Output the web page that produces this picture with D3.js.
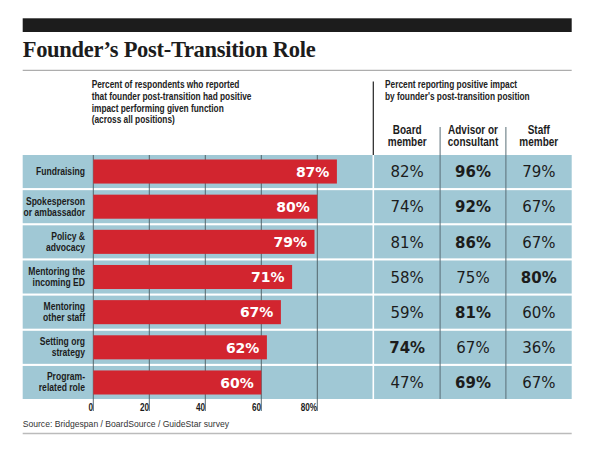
<!DOCTYPE html>
<html>
<head>
<meta charset="utf-8">
<script src="https://cdn.jsdelivr.net/npm/d3@7"></script>
<style>
  body { margin: 0; background: #fff; }
  .narrow { font-family: "Liberation Sans", Arial, sans-serif; font-weight: bold; }
</style>
</head>
<body>
<div id="chart"></div>
<script>
// data
const labelLines = [
    ["Fundraising"],
    ["Spokesperson", "or ambassador"],
    ["Policy &", "advocacy"],
    ["Mentoring the", "incoming ED"],
    ["Mentoring", "other staff"],
    ["Setting org", "strategy"],
    ["Program-", "related role"]
];
const overall = [87, 80, 79, 71, 67, 62, 60];
const board   = [82, 74, 81, 58, 59, 74, 47];
const advisor = [96, 92, 86, 75, 81, 67, 69];
const staff   = [79, 67, 67, 80, 60, 36, 67];
const positions = [["Board", "member"], ["Advisor or", "consultant"], ["Staff", "member"]];
const xTicks = [0, 20, 40, 60, 80];

const width = 592, height = 449;
const left = 22.7, right = 571.7, split = 373.3;
const blue = "#a0c8d5", red = "#d2252f";

const svg = d3.select("#chart")
    .append("svg")
    .attr("width", width)
    .attr("height", height);

// no narrow font installed, so squeeze text horizontally around its anchor x
function squeeze(sel, ax, sx) {
    sel.attr("transform", `matrix(${sx},0,0,1,${ax * (1 - sx)},0)`);
}

function multiline(sel, lines, x, y0, dy) {
    sel.selectAll("tspan")
        .data(lines)
        .enter().append("tspan")
        .attr("x", x)
        .attr("y", (d, i) => y0 + i * dy)
        .text(d => d);
}

// top black band, title, rule
svg.append("rect")
    .attr("x", left).attr("y", 18.3)
    .attr("width", right - left).attr("height", 13.7)
    .attr("fill", "#1c1c1c");

svg.append("text")
    .attr("x", left).attr("y", 56.7)
    .style("font-family", "'Liberation Serif', 'DejaVu Serif', serif")
    .style("font-weight", "bold")
    .style("font-size", "22.5px")
    .style("letter-spacing", "-0.3px")
    .attr("fill", "#1c1c1c")
    .text("Founder\u2019s Post-Transition Role");

svg.append("line")
    .attr("x1", left).attr("x2", right)
    .attr("y1", 70.3).attr("y2", 70.3)
    .attr("stroke", "#999").attr("stroke-width", 1);

// header notes
const leftNote = svg.append("text")
    .attr("class", "narrow")
    .style("font-size", "10.4px")
    .attr("fill", "#222");
multiline(leftNote, ["Percent of respondents who reported",
    "that founder post-transition had positive",
    "impact performing given function",
    "(across all positions)"], 91.7, 88.3, 11.7);
squeeze(leftNote, 91.7, 0.8);

const rightNote = svg.append("text")
    .attr("class", "narrow")
    .style("font-size", "10.4px")
    .attr("fill", "#222");
multiline(rightNote, ["Percent reporting positive impact",
    "by founder's post-transition position"], 385, 88.3, 11.7);
squeeze(rightNote, 385, 0.8);

svg.append("line")
    .attr("x1", split).attr("x2", split)
    .attr("y1", 81.5).attr("y2", 155)
    .attr("stroke", "#222").attr("stroke-width", 1.2);

// scales
const x = d3.scaleLinear()
    .domain([0, 80])
    .range([93.3, 317.3]);

const y = d3.scaleBand()
    .domain(d3.range(overall.length))
    .range([155, 399])
    .paddingInner(0.06);

const col = d3.scaleBand()
    .domain(d3.range(positions.length))
    .range([split + 1, right]);

// row bands
const rows = svg.append("g");
rows.selectAll(".bandL")
    .data(overall)
    .enter().append("rect")
    .attr("class", "bandL")
    .attr("x", left)
    .attr("y", (d, i) => y(i))
    .attr("width", split - 0.8 - left)
    .attr("height", y.bandwidth())
    .attr("fill", blue);
rows.selectAll(".bandR")
    .data(overall)
    .enter().append("rect")
    .attr("class", "bandR")
    .attr("x", split + 0.8)
    .attr("y", (d, i) => y(i))
    .attr("width", right - split - 0.8)
    .attr("height", y.bandwidth())
    .attr("fill", blue);

// grid lines
svg.append("g")
    .selectAll("line")
    .data(xTicks)
    .enter().append("line")
    .attr("x1", d => x(d)).attr("x2", d => x(d))
    .attr("y1", 155).attr("y2", 411)
    .attr("stroke", "#4b5a61")
    .attr("stroke-width", 0.9);

// column separators
svg.append("g")
    .selectAll("line")
    .data([1, 2])
    .enter().append("line")
    .attr("x1", d => col(d)).attr("x2", d => col(d))
    .attr("y1", 127).attr("y2", 399)
    .attr("stroke", "#5a6e77")
    .attr("stroke-width", 1);

// bars
const barPad = 4.5;
svg.append("g")
    .selectAll("rect")
    .data(overall)
    .enter().append("rect")
    .attr("x", x(0))
    .attr("y", (d, i) => y(i) + barPad)
    .attr("width", d => x(d) - x(0))
    .attr("height", y.bandwidth() - 2 * barPad)
    .attr("fill", red);

svg.append("g")
    .selectAll("text")
    .data(overall)
    .enter().append("text")
    .attr("x", d => x(d) - 7.5)
    .attr("y", (d, i) => y(i) + y.bandwidth() / 2 + 5.2)
    .attr("text-anchor", "end")
    .style("font-family", "'DejaVu Sans', sans-serif")
    .style("font-weight", "bold")
    .style("font-size", "14px")
    .attr("fill", "#fff")
    .text(d => d + "%");

// row labels
svg.append("g")
    .selectAll("text")
    .data(labelLines)
    .enter().append("text")
    .attr("class", "narrow")
    .attr("text-anchor", "end")
    .style("font-size", "11.3px")
    .attr("fill", "#1c1c1c")
    .each(function(lines, i) {
        const cy = y(i) + y.bandwidth() / 2;
        const y0 = lines.length == 1 ? cy + 3.8 : cy - 2;
        multiline(d3.select(this), lines, 85, y0, 11);
        squeeze(d3.select(this), 85, 0.76);
    });

// x axis labels
const axis = svg.append("g")
    .attr("transform", "translate(0, 401)")
    .call(d3.axisBottom(x)
        .tickValues(xTicks)
        .tickSize(0)
        .tickFormat(d => d == 80 ? "80%" : d));
axis.select(".domain").remove();
axis.selectAll("text")
    .attr("class", "narrow")
    .attr("text-anchor", "end")
    .attr("x", -1)
    .attr("dy", "0.7em")
    .style("font-size", "10.5px")
    .style("font-family", "'Liberation Sans', Arial, sans-serif")
    .attr("fill", "#1c1c1c")
    .call(squeeze, 0, 0.78);

// column headers
svg.append("g")
    .selectAll("text")
    .data(positions)
    .enter().append("text")
    .attr("class", "narrow")
    .attr("text-anchor", "middle")
    .style("font-size", "12.2px")
    .attr("fill", "#1c1c1c")
    .each(function(lines, j) {
        const cx = col(j) + col.bandwidth() / 2;
        multiline(d3.select(this), lines, cx, 134, 12);
        squeeze(d3.select(this), cx, 0.82);
    });

// table values
const table = [board, advisor, staff];
overall.forEach(function(_, i) {
    const rowVals = table.map(s => s[i]);
    const best = d3.max(rowVals);
    svg.append("g")
        .selectAll("text")
        .data(rowVals)
        .enter().append("text")
        .attr("x", (d, j) => col(j) + col.bandwidth() / 2)
        .attr("y", y(i) + y.bandwidth() / 2 + 5.8)
        .attr("text-anchor", "middle")
        .style("font-family", "'DejaVu Sans', sans-serif")
        .style("font-size", "15px")
        .style("font-weight", d => d == best ? "bold" : "normal")
        .attr("fill", "#1c1c1c")
        .text(d => d + "%");
});

// source
svg.append("text")
    .attr("x", left).attr("y", 427)
    .style("font-family", "'Liberation Sans', sans-serif")
    .style("font-size", "8.6px")
    .attr("fill", "#333")
    .text("Source: Bridgespan / BoardSource / GuideStar survey");

svg.append("line")
    .attr("x1", left).attr("x2", right)
    .attr("y1", 433.5).attr("y2", 433.5)
    .attr("stroke", "#bbb").attr("stroke-width", 1.5);
</script>
</body>
</html>
